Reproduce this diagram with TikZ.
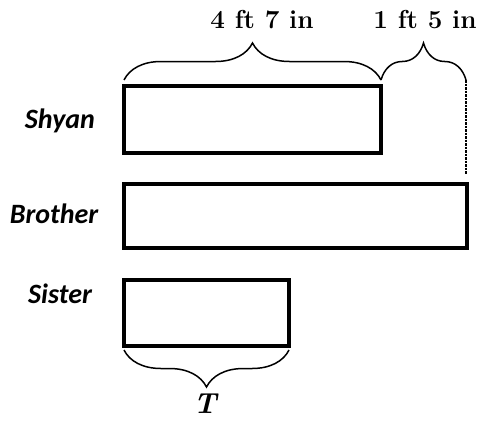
\documentclass[tikz,border=0pt]{standalone}
\usepackage{fontspec}
\newfontfamily\labfont{Carlito}
\usetikzlibrary{decorations.pathreplacing}
\begin{document}
\begin{tikzpicture}[x=1pt,y=-1pt]
\tikzset{
  barbox/.style={draw=black, line width=3.8pt, inner sep=0pt, outer sep=0pt, anchor=north west},
  brc/.style={draw=black, decorate, decoration={brace, amplitude=37pt}, line width=1.5pt},
  who/.style={font=\labfont\bfseries\itshape\fontsize{28}{30}\selectfont, anchor=base, inner sep=0pt},
  meas/.style={font=\bfseries\fontsize{26}{28}\selectfont, anchor=base, inner sep=0pt},
  guide/.style={draw=black, line width=1.5pt, dash pattern=on 2.5pt off 1pt},
}
\useasboundingbox (0,0) rectangle (478,423);
% bars
\node[barbox, minimum width=257pt, minimum height=67pt] (shyan) at (124,86) {};
\node[barbox, minimum width=343pt, minimum height=64pt] (brother) at (124,184) {};
\node[barbox, minimum width=165pt, minimum height=66pt] (sister) at (124,280) {};
% names
\node[who] (nshyan) at (60,128) {Shyan};
\node[who] (nbrother) at (54,223) {Brother};
\node[who] (nsister) at (60,303) {Sister};
% braces
\coordinate (a1) at (124,80);
\coordinate (a2) at (381,80);
\coordinate (a3) at (466,80);
\coordinate (d) at (466,174);
\draw[brc] (a1) -- (a2);
\draw[brc] (a2) -- (a3);
\draw[guide] (a3) -- (d);
\coordinate (b1) at (124,350);
\coordinate (b2) at (289,350);
\draw[brc] (b2) -- (b1);
% measures
\node[meas] (m1) at (262,28) {4 ft 7 in};
\node[meas] (m2) at (425,28) {1 ft 5 in};
\node[meas, font=\bfseries\itshape\fontsize{29}{30}\selectfont] (t) at (205,413) {T};
\end{tikzpicture}
\end{document}
